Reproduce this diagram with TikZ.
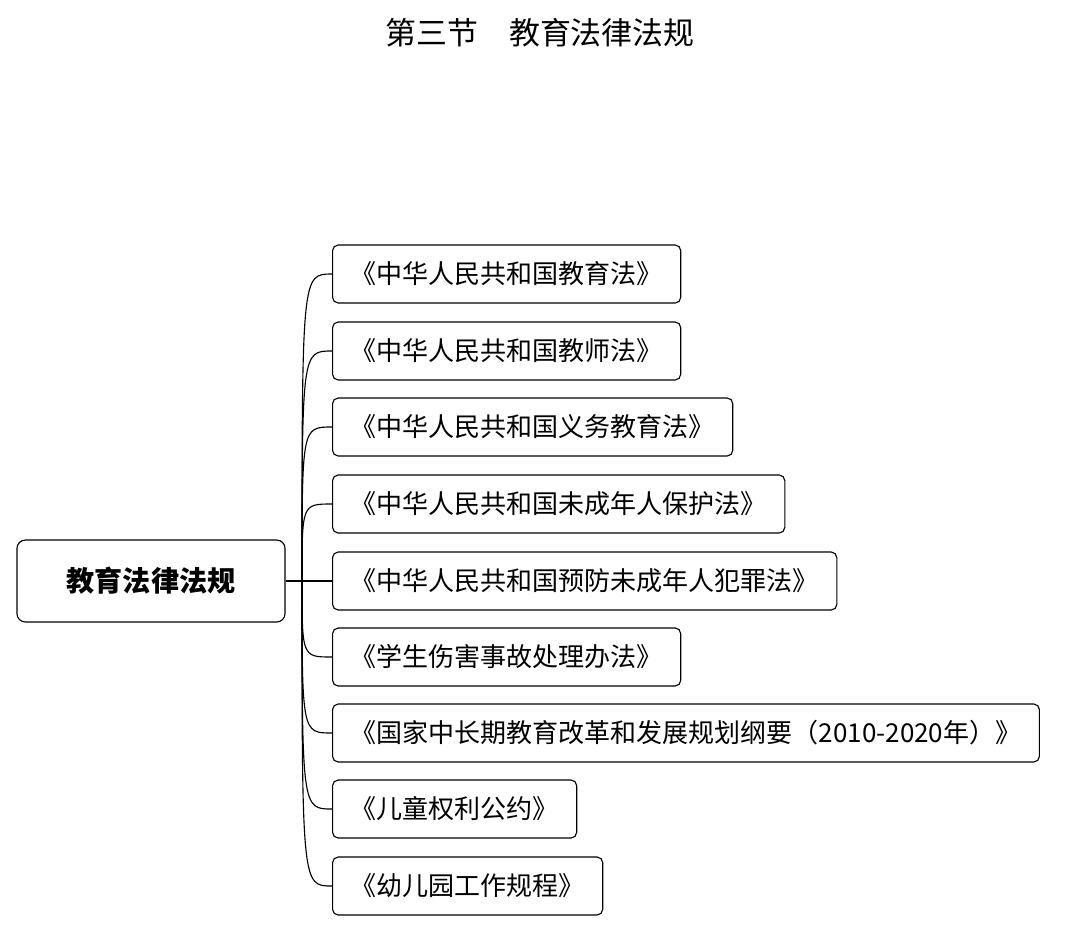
\documentclass[tikz,border=0pt]{standalone}
\usepackage{fontspec}
\setmainfont{Noto Sans CJK SC}
\usepackage{tikz}
\tikzset{
  law/.style={rectangle, draw, thick, rounded corners=4pt, anchor=west, minimum height=1.45cm, inner xsep=0.45cm, font=\fontsize{18.5}{22}\selectfont},
  topic/.style={rectangle, draw, thick, rounded corners=6pt, minimum width=6.7cm, minimum height=2.05cm, font=\fontsize{20}{24}\selectfont\bfseries},
  branch/.style={draw, thick}
}
\begin{document}
\begin{tikzpicture}[x=0.025cm, y=-0.025cm]
\useasboundingbox (0,0) rectangle (1080,950);
\node [font=\fontsize{22}{26}\selectfont] (title) at (540,33) {第三节\quad 教育法律法规};
\node [topic] (root) at (151,581) {教育法律法规};
\coordinate (hub) at (302,581);
\node [law] (l1) at (332,274) {《中华人民共和国教育法》};
\node [law] (l2) at (332,351) {《中华人民共和国教师法》};
\node [law] (l3) at (332,427) {《中华人民共和国义务教育法》};
\node [law] (l4) at (332,504) {《中华人民共和国未成年人保护法》};
\node [law] (l5) at (332,581) {《中华人民共和国预防未成年人犯罪法》};
\node [law] (l6) at (332,657) {《学生伤害事故处理办法》};
\node [law] (l7) at (332,733) {《国家中长期教育改革和发展规划纲要（2010-2020年）》};
\node [law] (l8) at (332,809) {《儿童权利公约》};
\node [law] (l9) at (332,886) {《幼儿园工作规程》};
% Draw the edges
\draw [branch] (root.east) -- (hub);
\foreach \n in {l1,l2,l3,l4,l5,l6,l7,l8,l9}
  \draw [branch] (hub) .. controls (hub |- \n.west) .. (\n.west);
\end{tikzpicture}
\end{document}
